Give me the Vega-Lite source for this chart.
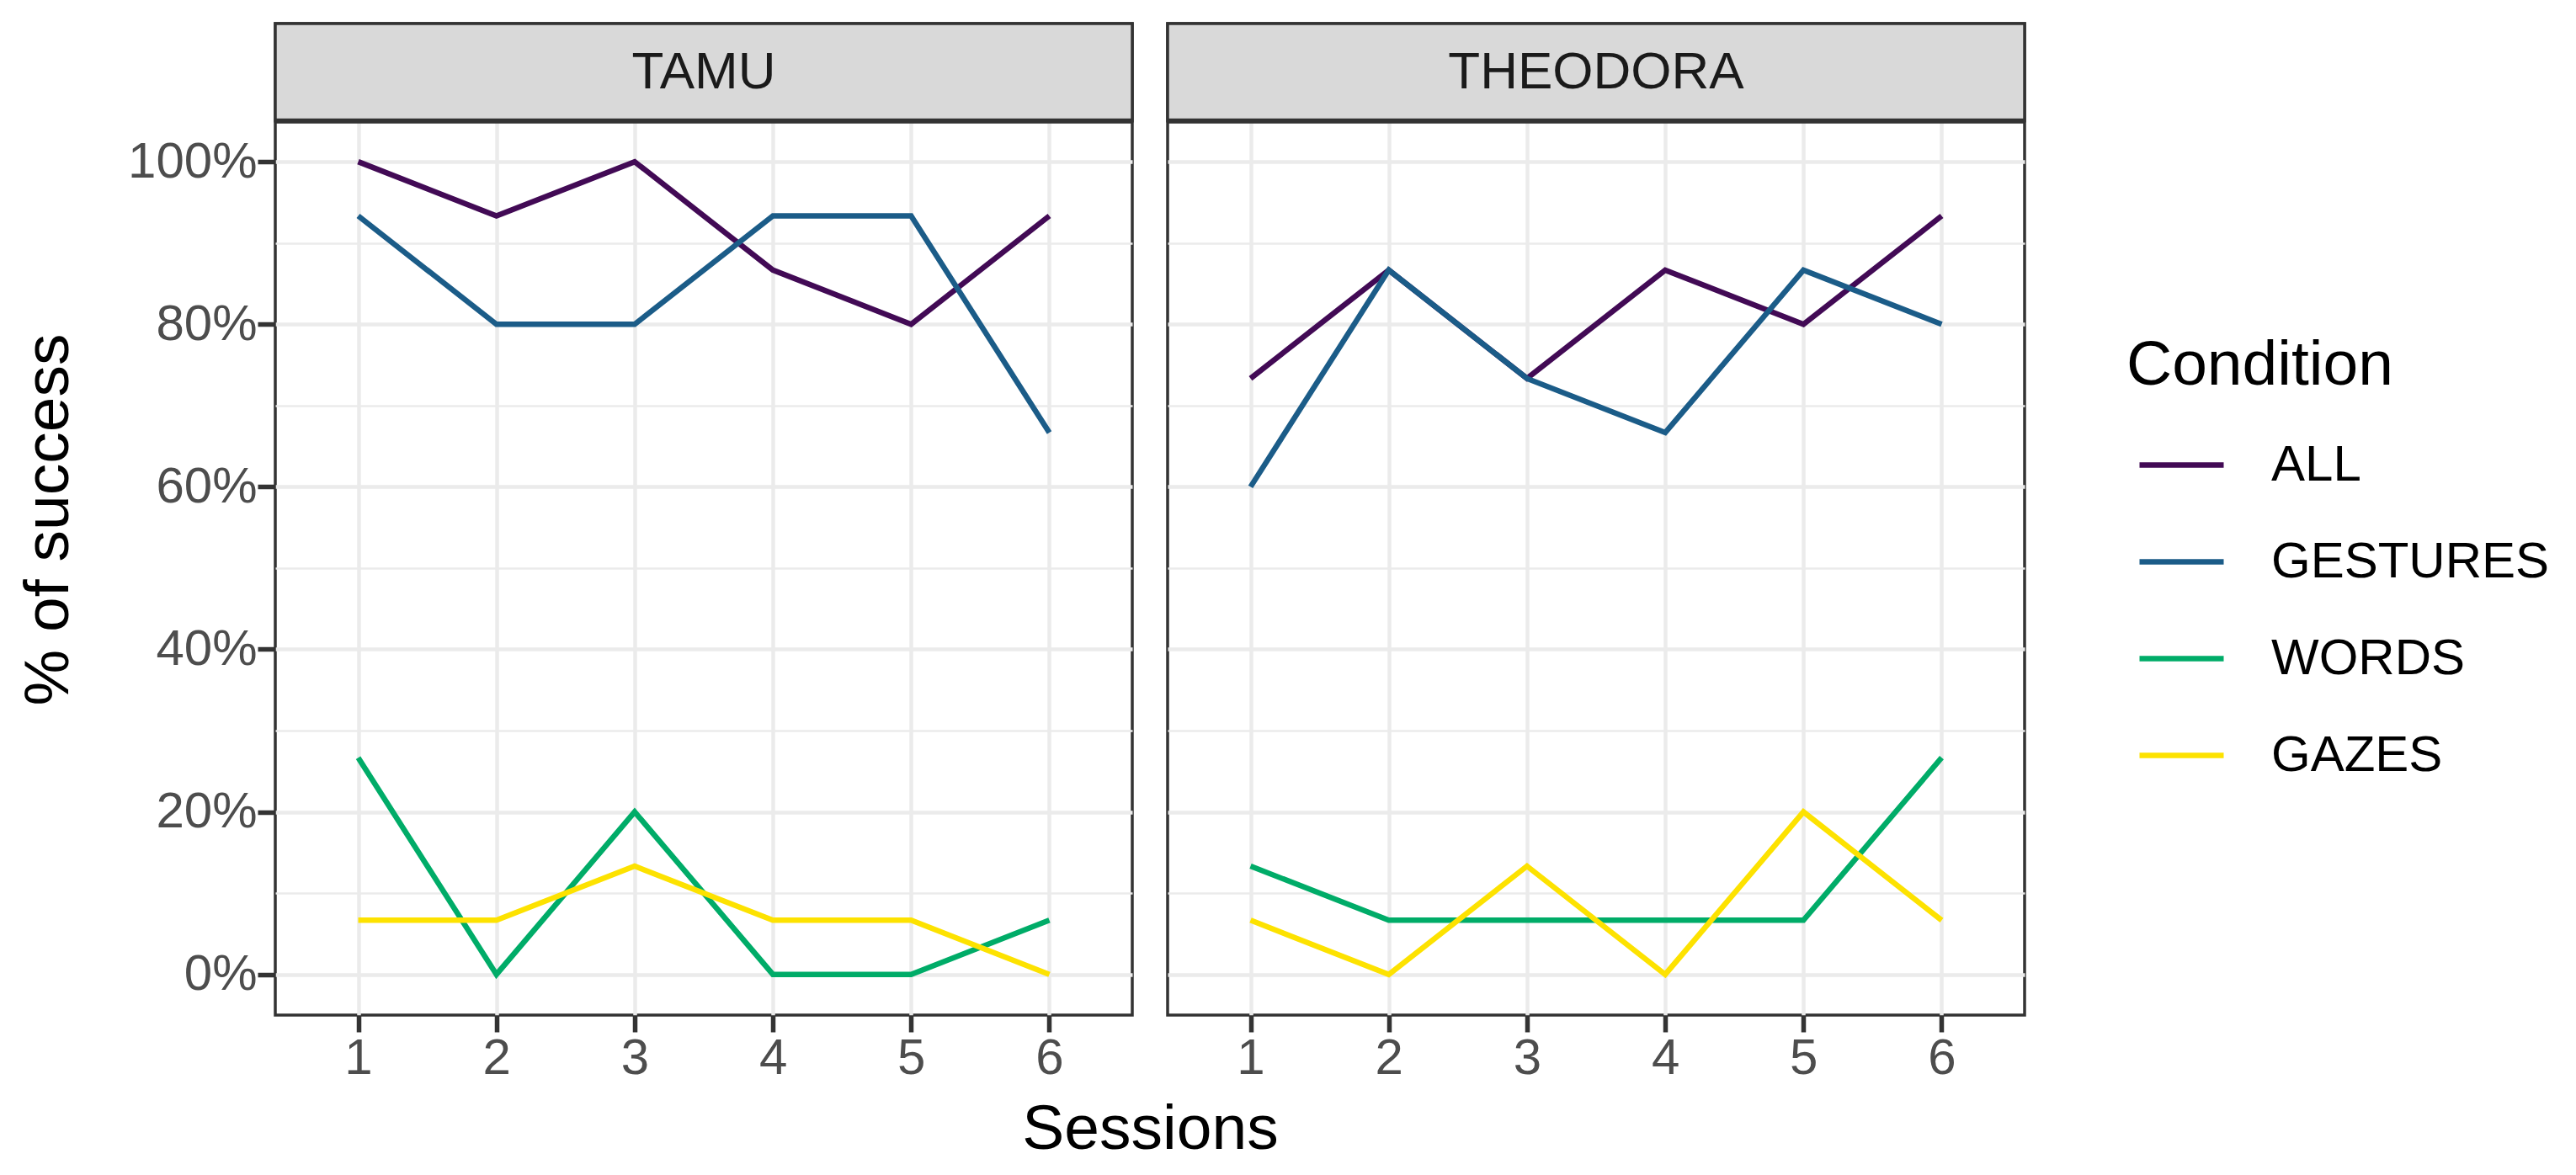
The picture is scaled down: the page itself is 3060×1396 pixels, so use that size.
{
  "$schema": "https://vega.github.io/schema/vega-lite/v6.json",
  "padding": {"left": 18, "top": 24, "right": 5, "bottom": 5},
  "bounds": "flush",
  "datasets": {
    "results": [
      {"robot": "TAMU", "condition": "ALL", "session": 1, "success": 100},
      {"robot": "TAMU", "condition": "ALL", "session": 2, "success": 93.33},
      {"robot": "TAMU", "condition": "ALL", "session": 3, "success": 100},
      {"robot": "TAMU", "condition": "ALL", "session": 4, "success": 86.67},
      {"robot": "TAMU", "condition": "ALL", "session": 5, "success": 80},
      {"robot": "TAMU", "condition": "ALL", "session": 6, "success": 93.33},
      {"robot": "TAMU", "condition": "GESTURES", "session": 1, "success": 93.33},
      {"robot": "TAMU", "condition": "GESTURES", "session": 2, "success": 80},
      {"robot": "TAMU", "condition": "GESTURES", "session": 3, "success": 80},
      {"robot": "TAMU", "condition": "GESTURES", "session": 4, "success": 93.33},
      {"robot": "TAMU", "condition": "GESTURES", "session": 5, "success": 93.33},
      {"robot": "TAMU", "condition": "GESTURES", "session": 6, "success": 66.67},
      {"robot": "TAMU", "condition": "WORDS", "session": 1, "success": 26.67},
      {"robot": "TAMU", "condition": "WORDS", "session": 2, "success": 0},
      {"robot": "TAMU", "condition": "WORDS", "session": 3, "success": 20},
      {"robot": "TAMU", "condition": "WORDS", "session": 4, "success": 0},
      {"robot": "TAMU", "condition": "WORDS", "session": 5, "success": 0},
      {"robot": "TAMU", "condition": "WORDS", "session": 6, "success": 6.67},
      {"robot": "TAMU", "condition": "GAZES", "session": 1, "success": 6.67},
      {"robot": "TAMU", "condition": "GAZES", "session": 2, "success": 6.67},
      {"robot": "TAMU", "condition": "GAZES", "session": 3, "success": 13.33},
      {"robot": "TAMU", "condition": "GAZES", "session": 4, "success": 6.67},
      {"robot": "TAMU", "condition": "GAZES", "session": 5, "success": 6.67},
      {"robot": "TAMU", "condition": "GAZES", "session": 6, "success": 0},
      {"robot": "THEODORA", "condition": "ALL", "session": 1, "success": 73.33},
      {"robot": "THEODORA", "condition": "ALL", "session": 2, "success": 86.67},
      {"robot": "THEODORA", "condition": "ALL", "session": 3, "success": 73.33},
      {"robot": "THEODORA", "condition": "ALL", "session": 4, "success": 86.67},
      {"robot": "THEODORA", "condition": "ALL", "session": 5, "success": 80},
      {"robot": "THEODORA", "condition": "ALL", "session": 6, "success": 93.33},
      {"robot": "THEODORA", "condition": "GESTURES", "session": 1, "success": 60},
      {"robot": "THEODORA", "condition": "GESTURES", "session": 2, "success": 86.67},
      {"robot": "THEODORA", "condition": "GESTURES", "session": 3, "success": 73.33},
      {"robot": "THEODORA", "condition": "GESTURES", "session": 4, "success": 66.67},
      {"robot": "THEODORA", "condition": "GESTURES", "session": 5, "success": 86.67},
      {"robot": "THEODORA", "condition": "GESTURES", "session": 6, "success": 80},
      {"robot": "THEODORA", "condition": "WORDS", "session": 1, "success": 13.33},
      {"robot": "THEODORA", "condition": "WORDS", "session": 2, "success": 6.67},
      {"robot": "THEODORA", "condition": "WORDS", "session": 3, "success": 6.67},
      {"robot": "THEODORA", "condition": "WORDS", "session": 4, "success": 6.67},
      {"robot": "THEODORA", "condition": "WORDS", "session": 5, "success": 6.67},
      {"robot": "THEODORA", "condition": "WORDS", "session": 6, "success": 26.67},
      {"robot": "THEODORA", "condition": "GAZES", "session": 1, "success": 6.67},
      {"robot": "THEODORA", "condition": "GAZES", "session": 2, "success": 0},
      {"robot": "THEODORA", "condition": "GAZES", "session": 3, "success": 13.33},
      {"robot": "THEODORA", "condition": "GAZES", "session": 4, "success": 0},
      {"robot": "THEODORA", "condition": "GAZES", "session": 5, "success": 20},
      {"robot": "THEODORA", "condition": "GAZES", "session": 6, "success": 6.67}
    ]
  },
  "hconcat": [
    {
      "width": 1018,
      "height": 1178,
      "layer": [
        {
          "data": {"values": [{"robot": "TAMU"}]},
          "mark": {"type": "rect", "fill": "#D9D9D9", "stroke": "#333333", "strokeWidth": 3.5},
          "encoding": {
            "y": {"datum": 105, "type": "quantitative"},
            "y2": {"datum": 117}
          }
        },
        {
          "data": {"values": [{"robot": "TAMU"}]},
          "mark": {"type": "rule", "color": "#333333", "strokeWidth": 6},
          "encoding": {
            "y": {"datum": 105, "type": "quantitative"}
          }
        },
        {
          "data": {"values": [{"robot": "TAMU"}]},
          "mark": {"type": "text", "fontSize": 62, "color": "#1A1A1A"},
          "encoding": {
            "y": {"datum": 111, "type": "quantitative"},
            "text": {"field": "robot"}
          }
        },
        {
          "data": {"name": "results"},
          "transform": [{"filter": "datum.robot === 'TAMU'"}],
          "mark": {"type": "line", "strokeWidth": 6.5},
          "encoding": {
            "x": {
              "field": "session", "type": "ordinal",
              "scale": {"type": "point", "padding": 0.6},
              "axis": {"title": "Sessions", "titleX": 1039, "labelPadding": 2, "titlePadding": 18}
            },
            "y": {
              "field": "success", "type": "quantitative",
              "scale": {"domain": [-5, 117], "nice": false, "zero": false},
              "axis": {
                "title": "% of success",
                "values": [0, 10, 20, 30, 40, 50, 60, 70, 80, 90, 100],
                "labelExpr": "datum.value % 20 === 0 ? datum.value + '%' : ''",
                "gridWidth": {"condition": {"test": "datum.value % 20 !== 0", "value": 2.5}, "value": 4.5},
                "tickOpacity": {"condition": {"test": "datum.value % 20 !== 0", "value": 0}, "value": 1},
                "tickSize": 21,
                "labelPadding": 1,
                "titlePadding": 55
              }
            },
            "color": {
              "field": "condition", "type": "nominal",
              "scale": {"domain": ["ALL", "GESTURES", "WORDS", "GAZES"], "range": ["#420A55", "#1B5C88", "#00AC68", "#FDE200"]},
              "legend": {"title": "Condition"}
            }
          }
        }
      ]
    },
    {
      "width": 1018,
      "height": 1178,
      "layer": [
        {
          "data": {"values": [{"robot": "THEODORA"}]},
          "mark": {"type": "rect", "fill": "#D9D9D9", "stroke": "#333333", "strokeWidth": 3.5},
          "encoding": {
            "y": {"datum": 105, "type": "quantitative"},
            "y2": {"datum": 117}
          }
        },
        {
          "data": {"values": [{"robot": "THEODORA"}]},
          "mark": {"type": "rule", "color": "#333333", "strokeWidth": 6},
          "encoding": {
            "y": {"datum": 105, "type": "quantitative"}
          }
        },
        {
          "data": {"values": [{"robot": "THEODORA"}]},
          "mark": {"type": "text", "fontSize": 62, "color": "#1A1A1A"},
          "encoding": {
            "y": {"datum": 111, "type": "quantitative"},
            "text": {"field": "robot"}
          }
        },
        {
          "data": {"name": "results"},
          "transform": [{"filter": "datum.robot === 'THEODORA'"}],
          "mark": {"type": "line", "strokeWidth": 6.5},
          "encoding": {
            "x": {
              "field": "session", "type": "ordinal",
              "scale": {"type": "point", "padding": 0.6},
              "axis": {"title": null, "labelPadding": 2}
            },
            "y": {
              "field": "success", "type": "quantitative",
              "scale": {"domain": [-5, 117], "nice": false, "zero": false},
              "axis": {
                "title": null,
                "values": [0, 10, 20, 30, 40, 50, 60, 70, 80, 90, 100],
                "labels": false,
                "ticks": false,
                "gridWidth": {"condition": {"test": "datum.value % 20 !== 0", "value": 2.5}, "value": 4.5}
              }
            },
            "color": {
              "field": "condition", "type": "nominal",
              "scale": {"domain": ["ALL", "GESTURES", "WORDS", "GAZES"], "range": ["#420A55", "#1B5C88", "#00AC68", "#FDE200"]},
              "legend": {"title": "Condition"}
            }
          }
        }
      ]
    }
  ],
  "spacing": 42,
  "config": {
    "font": "Liberation Sans",
    "view": {"stroke": "#333333", "strokeWidth": 3.5},
    "axis": {
      "domain": false,
      "grid": true,
      "gridColor": "#EBEBEB",
      "gridWidth": 4.5,
      "tickColor": "#333333",
      "tickWidth": 5.5,
      "tickSize": 20,
      "labelFontSize": 60,
      "labelColor": "#4D4D4D",
      "labelAngle": 0,
      "titleFontSize": 75,
      "titleFontWeight": "normal",
      "titleColor": "#000000"
    },
    "legend": {
      "orient": "none",
      "legendX": 2199,
      "legendY": 370,
      "titleFontSize": 75,
      "titleFontWeight": "normal",
      "titleColor": "#000000",
      "titlePadding": 26,
      "titleLimit": 0,
      "labelLimit": 0,
      "labelFontSize": 60,
      "labelColor": "#000000",
      "symbolType": "stroke",
      "symbolSize": 10000,
      "symbolStrokeWidth": 6.5,
      "symbolOffset": 12,
      "labelOffset": 53,
      "rowPadding": 31
    }
  }
}
